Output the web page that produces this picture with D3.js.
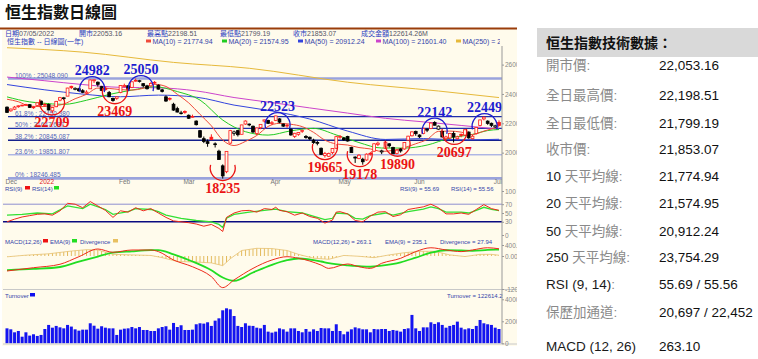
<!DOCTYPE html>
<html>
<head>
<meta charset="utf-8">
<script src="https://cdn.jsdelivr.net/npm/d3@7.9.0/dist/d3.min.js"></script>
<style>
  body { margin: 0; background: #fff; }
  svg text { font-family: "Liberation Sans", "Noto Sans CJK TC", sans-serif; }
</style>
</head>
<body>
<svg id="chart" width="758" height="359"></svg>
<script>
// ---- data (day index 0 = 20 Dec 2021, 130 = 5 Jul 2022) ----
const opens = [
  23100, 22850, 22960, 23130, 23240, 23250, 23270, 23060, 23220,
  23510, 23270, 23280, 22850, 23130, 23580, 23680, 23850, 24520, 24300, 24350, 24220, 24050, 24350, 24900, 24800, 24500, 24400, 24100, 23700, 23700,
  24100, 24500, 24560, 24450, 24900, 24880, 24700, 24550, 24550, 24750, 24600, 24280, 23800, 23700, 23300, 23000, 22700,
  22800, 22550, 22450, 22150, 21500, 20950, 20750, 21050, 20600, 20100, 19100, 18700, 20650, 21300, 21500, 21250, 21950, 21900, 21800, 21300, 21700, 22150, 22200,
  22000, 22200, 22300, 21950, 21850, 21600, 21100, 21250, 21450, 21100, 21050, 20850, 20700, 20300, 19800, 19750, 20000, 20300,
  21050, 21000, 21100, 20350, 19700, 19600, 19550, 19500, 19950, 20100, 20550, 20050, 20300, 20600, 20350, 19950, 20250, 20250, 20850, 21150,
  21450, 21200, 21300, 21600, 21650, 22050, 21600, 21450, 20950, 21000, 21300, 20950, 21250, 21200, 21400, 20950, 21300, 21850, 22300, 22150, 22000,
  21750, 22053.16
];
const highs = [
  23150, 23000, 23180, 23220, 23260, 23330, 23300, 23150, 23400,
  23560, 23390, 23350, 23100, 23530, 23800, 23800, 24420, 24560, 24450, 24420, 24330, 24250, 24982, 24980, 24850, 24550, 24500, 24200, 23750, 23820,
  24600, 24700, 24600, 24850, 25050, 24960, 24740, 24620, 24800, 24880, 24650, 24350, 23900, 23760, 23400, 23130, 22850,
  22880, 22600, 22590, 22200, 21550, 21100, 20900, 21250, 20700, 20200, 19200, 20100, 21550, 21500, 21550, 21900, 22200, 21990, 21850, 21700, 21930, 22250, 22240,
  22150, 22523, 22350, 21980, 21950, 21650, 21350, 21400, 21580, 21200, 21100, 20950, 20800, 20350, 20050, 20000, 20300, 21150,
  21200, 21050, 21150, 20400, 19750, 19900, 19650, 19950, 20050, 20650, 20750, 20200, 20750, 20650, 20400, 20200, 20300, 20700, 21150, 21450,
  21500, 21250, 21700, 21650, 22050, 22142, 21850, 21500, 21150, 21350, 21450, 21150, 21300, 21600, 21450, 21200, 21750, 22250, 22449, 22200, 22050,
  21900, 22198.51
];
const lows = [
  22700, 22790, 22900, 23060, 23160, 23190, 23050, 22990, 23180,
  23180, 23150, 22880, 22709, 23100, 23500, 23580, 23850, 24330, 24250, 24150, 24050, 23990, 24350, 24750, 24500, 24200, 24230, 23780, 23469, 23600,
  24050, 24450, 24250, 24400, 24830, 24780, 24450, 24300, 24500, 24650, 24300, 24100, 23450, 23550, 22850, 22740, 22600,
  22650, 22300, 22380, 21850, 21000, 20650, 20400, 20850, 20350, 19500, 18235, 18600, 20600, 21150, 21100, 21250, 21900, 21800, 21350, 21200, 21600, 22050, 21950,
  21900, 22150, 22000, 21750, 21700, 21150, 21000, 21150, 21350, 20950, 20850, 20600, 20500, 19850, 19665, 19700, 19900, 20250,
  20950, 20800, 20750, 20000, 19300, 19550, 19178, 19450, 19800, 20050, 20450, 19900, 20250, 20350, 19900, 19890, 20000, 20200, 20850, 21100,
  21150, 21000, 21250, 21400, 21600, 21850, 21550, 21050, 20850, 20900, 20697, 20900, 21050, 21150, 20950, 20900, 21250, 21800, 22200, 21900, 21750,
  21700, 21799.19
];
const closes = [
  22744, 22971, 23102, 23193, 23224, 23280, 23086, 23112, 23398,
  23274, 23289, 22907, 23072, 23493, 23746, 23739, 24402, 24429, 24383, 24218, 24112, 24127, 24952, 24965, 24656, 24243, 24289, 23807, 23550, 23802,
  24573, 24579, 24329, 24829, 24924, 24906, 24556, 24355, 24718, 24792, 24327, 24170, 23520, 23660, 22901, 22767, 22713,
  22761, 22343, 22467, 21906, 21057, 20765, 20627, 20890, 20554, 19531, 18415, 20087, 21501, 21412, 21221, 21889, 22154, 21945, 21404, 21684, 21927, 22232, 21996,
  22039, 22502, 22080, 21808, 21872, 21208, 21319, 21374, 21518, 21027, 20944, 20682, 20638, 19869, 19934, 19946, 20276, 21089,
  21101, 20870, 20793, 20001, 19633, 19824, 19380, 19898, 19950, 20602, 20644, 20120, 20717, 20470, 19924, 20171, 20116, 20697, 21123, 21415,
  21294, 21082, 21654, 21531, 22014, 21869, 21806, 21067, 21067, 21308, 21075, 21075, 21163, 21559, 21008, 21120, 21719, 22229, 22419, 21996, 21860,
  21830, 21853.07
];

const monthLabels = ['Dec', '2022', 'Feb', 'Mar', 'Apr', 'May', 'Jun', 'Jul'];
const monthStart = [0, 9, 30, 47, 70, 88, 108, 129];

// moving averages
const ma10Day = [0,3,6,9,12,15,18,21,24,27,30,33,36,39,42,45,48,51,54,57,60,63,66,69,72,75,78,81,84,87,90,93,96,99,102,105,108,111,114,117,120,123,126,129,130];
const ma10 = [23640,23470,23170,23138,23184,23312,23673,23972,24398,24375,24296,24266,24386,24656,24510,23977,23395,22610,21830,20856,20484,20765,21171,21786,21996,21935,21772,21383,20851,20592,20520,20347,20254,20085,20153,20341,20605,20901,21449,21469,21398,21225,21468,21690,21775];
const ma20Day = [0,6,9,15,21,27,33,39,45,51,57,63,69,75,81,87,93,99,105,111,117,123,127,130];
const ma20 = [23800,23460,23380,23290,23570,23964,24261,24489,24162,23585,22222,21428,21197,21486,21655,21209,20688,20315,20313,20516,20993,21246,21505,21575];
const ma50Day = [0,10,20,30,40,50,60,70,80,90,100,110,120,130];
const ma50 = [24640,24280,23990,23810,23920,23780,23240,22840,22290,21470,20900,20960,20870,20912];
const ma100Day = [0,10,20,30,40,50,60,70,80,90,100,110,120,130];
const ma100 = [25150,24900,24640,24450,24420,24208,23757,23412,23048,22695,22339,22099,21854,21601];
const ma250Day = [0,20,44,64,90,114,130];
const ma250 = [27150,26850,26150,25750,24800,24200,23754];

const fibNames = ['100%', '61.8%', '50%', '38.2%', '23.6%', '0%'];
const fibLevels = [25048.090, 22450.380, 21647.687, 20845.087, 19851.807, 18246.485];

// marked highs and lows
const noteDay = [22.5, 35.4, 28.5, 11.9, 57, 71.5, 84, 93.2, 103.2, 113, 118.2, 126.2];
const notePrice = [24982, 25050, 23469, 22709, 18235, 22523, 19665, 19178, 19890, 22142, 20697, 22449];
const noteKind = ['h', 'h', 'l', 'l', 'l', 'h', 'l', 'l', 'l', 'h', 'l', 'h'];

// RSI
const rsi9Day = [0,2,4,6,8,10,12,14,16,18,20,22,24,26,28,30,32,34,36,38,40,42,44,46,48,50,52,54,56,57,58,60,62,64,66,68,70,71,72,74,76,78,80,82,84,86,87,88,90,92,94,96,98,100,102,104,106,108,110,112,114,116,118,120,122,124,126,128,130];
const rsi9 = [30,36,41,44,47,48,45,55,72,70,62,76,66,56,40,55,52,62,55,60,50,40,32,30,28,25,20,24,15,8,40,50,55,56,52,60,58,63,56,53,45,50,42,38,27,34,52,53,48,33,30,43,52,53,42,46,58,61,64,70,62,48,48,50,47,58,69,60,56];
const rsi14Day = [0,4,8,12,16,20,22,26,28,32,34,38,40,42,46,50,54,56,57,58,60,64,68,71,74,78,80,84,86,87,90,92,94,96,100,102,106,110,112,114,116,120,122,124,126,128,130];
const rsi14 = [45,47,50,48,66,60,70,58,47,53,60,58,53,45,38,33,30,24,17,38,47,52,56,59,53,50,45,35,38,50,48,38,36,44,50,45,53,59,64,60,52,52,50,56,63,58,55.56];

// MACD
const macdDay = [0,7,14,19,24,28,33,38,40,44,49,54,57,60,65,70,74,77,83,85,90,93,96,99,104,108,112,116,120,123,127,130];
const macd = [-545,-425,-300,-25,255,135,218,218,160,-145,-390,-750,-1150,-870,-450,-145,-25,-80,-330,-450,-290,-390,-450,-265,-85,160,300,220,160,220,300,263.1];
const ema9 = [-510,-470,-400,-206,-20,120,170,210,215,60,-200,-520,-780,-900,-600,-320,-150,-90,-200,-260,-340,-370,-390,-350,-230,-60,120,210,200,190,220,235.1];
const divDay = [0,5,11,17,21,24,28,33,38,41,45,50,54,57,59,62,66,70,74,77,81,85,89,93,97,101,105,109,113,117,121,125,128,130];
const divergence = [-30,30,80,180,230,220,60,40,20,-60,-200,-220,-250,-350,-100,200,280,270,200,60,-80,-120,20,-10,-60,40,120,170,170,40,-20,60,60,27.94];

// turnover
const turnover = [
  13600,12700,10000,11200,6000,10000,7000,8200,6700,7600,
  13000,16700,14200,15800,14500,13600,16700,15200,12700,11500,
  12400,12400,18200,16000,13300,15500,14200,13600,13600,7600,
  12400,13300,13600,14800,13600,14800,12100,12100,11200,11200,
  13600,14800,15500,12400,18500,14800,16400,12100,12100,12400,
  17300,18200,17900,19100,15800,20600,22700,30000,31800,30900,
  24800,15800,14800,18200,16000,15800,14200,13600,16700,10600,
  9700,10600,13600,12700,10600,13600,13600,11200,10000,13000,
  10600,12700,11200,13900,13600,13600,11200,17300,11200,8200,
  10600,12700,14500,13600,12700,12700,10000,13000,12700,13000,
  13000,11200,12100,11500,10600,13000,13600,25800,13600,11200,
  14500,14500,19100,17600,19100,16700,14200,15800,16700,19700,
  14200,12700,13600,13000,15800,21200,18200,17300,16700,14200,
  13000
];

const headerInfo = ['日期07/05/2022', '開市22053.16', '最高點22198.51', '最低點21799.19', '收市21853.07', '成交金額122614.26M'];
const maNames = ['MA(10) = 21774.94', 'MA(20) = 21574.95', 'MA(50) = 20912.24', 'MA(100) = 21601.40', 'MA(250) = 23754.29'];

const tableLabels = ['開市價:', '全日最高價:', '全日最低價:', '收市價:', '10 天平均線:', '20 天平均線:', '50 天平均線:', '250 天平均線:', 'RSI (9, 14):', '保歷加通道:', 'MACD (12, 26)'];
const tableValues = ['22,053.16', '22,198.51', '21,799.19', '21,853.07', '21,774.94', '21,574.95', '20,912.24', '23,754.29', '55.69 / 55.56', '20,697 / 22,452', '263.10'];

// ---- layout ----
const cream = '#fffbec';
const blueText = '#3344aa';
const svg = d3.select('#chart');

const xs = d3.scaleLinear().domain([0, 130]).range([7, 499]);
const yP = d3.scaleLinear().domain([18000, 26000]).range([182, 64.6]);
const yR = d3.scaleLinear().domain([0, 100]).range([235, 191]);
const yM = d3.scaleLinear().domain([-1200, 400]).range([289, 245]);
const yT = d3.scaleLinear().domain([0, 40000]).range([343.3, 299.3]);

const defs = svg.append('defs');
defs.append('clipPath').attr('id', 'panelClip')
  .append('rect').attr('x', 2).attr('y', 28).attr('width', 515).attr('height', 318);
defs.append('clipPath').attr('id', 'plotClip')
  .append('rect').attr('x', 3).attr('y', 46).attr('width', 499).attr('height', 134);
defs.append('clipPath').attr('id', 'headClip')
  .append('rect').attr('x', 2).attr('y', 28).attr('width', 498).attr('height', 20);
const step = xs(1) - xs(0);
defs.append('pattern').attr('id', 'hatch').attr('patternUnits', 'userSpaceOnUse')
  .attr('x', xs(0) - 0.5).attr('y', 0).attr('width', step).attr('height', 10)
  .append('rect').attr('width', 1).attr('height', 10).attr('fill', '#e2b95a');

// title
svg.append('text').attr('x', 5).attr('y', 18)
  .attr('font-size', 16).attr('font-weight', 'bold').attr('fill', '#111')
  .style('font-family', '"Noto Sans CJK TC", sans-serif')
  .text('恒生指數日線圖');

// chart panel
const panel = svg.append('g').attr('clip-path', 'url(#panelClip)');
panel.append('rect').attr('x', 2).attr('y', 28).attr('width', 515).attr('height', 318).attr('fill', cream);
svg.append('rect').attr('x', 0).attr('y', 27.5).attr('width', 517).attr('height', 2).attr('fill', '#9a3d0a');

// header lines
const head = panel.append('g').attr('clip-path', 'url(#headClip)').attr('font-size', 7);
const headX = [5, 79, 147, 220, 293, 361];
headerInfo.forEach((s, i) => {
  const t = head.append('text').attr('x', headX[i]).attr('y', 36);
  s.match(/[\u4e00-\u9fff]+|[^\u4e00-\u9fff]+/g).forEach(run => {
    t.append('tspan').attr('fill', /[\u4e00-\u9fff]/.test(run) ? '#2a3cc0' : '#556').text(run);
  });
});
head.append('text').attr('x', 7).attr('y', 44).attr('fill', '#2a3cc0').text('恒生指數 -- 日線圖(一年)');
const maColors = ['#f04a3a', '#22cc22', '#3344dd', '#cc44cc', '#e6b93a'];
const maX = [146, 222, 298, 376, 456];
maNames.forEach((s, i) => {
  head.append('rect').attr('x', maX[i]).attr('y', 39.5).attr('width', 5).attr('height', 3).attr('fill', maColors[i]);
  head.append('text').attr('x', maX[i] + 6.5).attr('y', 44).attr('fill', blueText).text(s);
});

// main price plot
const plot = panel.append('g').attr('clip-path', 'url(#plotClip)');
const fibStyle = [
  { c: '#9aa3dc', w: 2.6 }, { c: '#1f2fa8', w: 1.3 }, { c: '#1f2fa8', w: 1.3 },
  { c: '#14208c', w: 1.3 }, { c: '#8a96e0', w: 1 }, { c: '#9aa3dc', w: 2.6 }
];
fibLevels.forEach((v, i) => {
  plot.append('line').attr('x1', 8).attr('x2', 502)
    .attr('y1', yP(v)).attr('y2', yP(v))
    .attr('stroke', fibStyle[i].c).attr('stroke-width', fibStyle[i].w);
  plot.append('text').attr('x', 15).attr('y', yP(v) - 1)
    .attr('font-size', 6.5).attr('fill', '#5566bb')
    .text(`${fibNames[i]} : ${v.toFixed(3)}`);
});

const maLine = d3.line().curve(d3.curveMonotoneX);
[[ma250Day, ma250, 4], [ma100Day, ma100, 3], [ma50Day, ma50, 2], [ma20Day, ma20, 1], [ma10Day, ma10, 0]]
  .forEach(([days, vals, c]) => {
    plot.append('path')
      .attr('d', maLine(days.map((d, i) => [xs(d), yP(vals[i])])))
      .attr('fill', 'none').attr('stroke', maColors[c]).attr('stroke-width', 1);
  });

// candles: red = up on previous close, hollow when close above open
const candles = plot.append('g').selectAll('g').data(d3.range(closes.length)).join('g');
const candleColor = k => (closes[k] >= (k > 0 ? closes[k - 1] : opens[k]) ? '#ff1a1a' : '#000');
candles.append('line')
  .attr('x1', k => xs(k)).attr('x2', k => xs(k))
  .attr('y1', k => yP(highs[k])).attr('y2', k => yP(lows[k]))
  .attr('stroke', candleColor).attr('stroke-width', 1);
candles.append('rect')
  .attr('x', k => xs(k) - 1.4).attr('width', 2.8)
  .attr('y', k => yP(Math.max(opens[k], closes[k])))
  .attr('height', k => Math.max(0.8, Math.abs(yP(opens[k]) - yP(closes[k]))))
  .attr('fill', k => (closes[k] > opens[k] ? cream : candleColor(k)))
  .attr('stroke', candleColor).attr('stroke-width', 0.8);

// circled highs / lows
const notes = panel.append('g');
const r = 12.5;
noteDay.forEach((d, i) => {
  const cx = xs(d);
  const py = yP(notePrice[i]);
  const p = d3.path();
  let ty;
  if (noteKind[i] === 'h') {
    const top = py - 3;
    p.arc(cx, top + r, r, Math.PI - 0.25, 2 * Math.PI + 0.25);
    ty = top - 1.5;
  } else {
    const bottom = py + 2;
    p.arc(cx, bottom - r, r, -0.25, Math.PI + 0.25);
    ty = bottom + 12.5;
  }
  const col = noteKind[i] === 'h' ? '#1c1cd0' : '#ea1414';
  notes.append('path').attr('d', p.toString()).attr('fill', 'none').attr('stroke', col).attr('stroke-width', 1.3);
  notes.append('text').attr('x', cx).attr('y', ty).attr('text-anchor', 'middle')
    .attr('font-size', 14).attr('font-weight', 'bold').attr('fill', col)
    .style('font-family', '"Liberation Serif", serif')
    .text(notePrice[i]);
});

// month labels
monthLabels.forEach((m, i) => {
  panel.append('text').attr('x', xs(monthStart[i]) - 1.5).attr('y', 183.5)
    .attr('font-size', 6.5).attr('fill', m === '2022' ? '#e02020' : '#777').text(m);
});

// panel labels
const lab = panel.append('g').attr('font-size', 6).attr('fill', blueText);
function legend(g, y, items) {
  items.forEach(([s, x, sx, col]) => {
    g.append('text').attr('x', x).attr('y', y).text(s);
    g.append('rect').attr('x', sx).attr('y', y - 4.5).attr('width', 5).attr('height', 3.5).attr('fill', col);
  });
}

// RSI panel
legend(lab, 190.5, [['RSI(9)', 5, 25, '#ee1111'], ['RSI(14)', 32, 54, '#22dd22']]);
lab.append('text').attr('x', 400).attr('y', 190.5).text('RSI(9) = 55.69');
lab.append('text').attr('x', 451).attr('y', 190.5).text('RSI(14) = 55.56');
panel.append('line').attr('x1', 3).attr('x2', 502).attr('y1', yR(70)).attr('y2', yR(70)).attr('stroke', '#8f8fd0').attr('stroke-width', 1);
panel.append('line').attr('x1', 3).attr('x2', 502).attr('y1', yR(30)).attr('y2', yR(30)).attr('stroke', '#0a0a80').attr('stroke-width', 1.4);
const rLine = d3.line();
panel.append('path').attr('d', rLine(rsi14Day.map((d, i) => [xs(d), yR(rsi14[i])])))
  .attr('fill', 'none').attr('stroke', '#33e033').attr('stroke-width', 1.3);
panel.append('path').attr('d', rLine(rsi9Day.map((d, i) => [xs(d), yR(rsi9[i])])))
  .attr('fill', 'none').attr('stroke', '#ee2a1a').attr('stroke-width', 1);

// MACD panel
legend(lab, 243.5, [['MACD(12,26)', 5, 43, '#ee1111'], ['EMA(9)', 50, 72, '#22dd22'], ['Divergence', 80, 113, '#e8c060']]);
lab.append('text').attr('x', 313).attr('y', 243.5).text('MACD(12,26) = 263.1');
lab.append('text').attr('x', 385).attr('y', 243.5).text('EMA(9) = 235.1');
lab.append('text').attr('x', 440).attr('y', 243.5).text('Divergence = 27.94');
const divPts = divDay.map((d, i) => [xs(d), yM(divergence[i])]);
panel.append('path')
  .attr('d', d3.area().x(p => p[0]).y0(yM(0)).y1(p => p[1])(divPts))
  .attr('fill', 'url(#hatch)');
panel.append('path').attr('d', d3.line()(divPts)).attr('fill', 'none').attr('stroke', '#e6c070').attr('stroke-width', 0.8);
panel.append('path').attr('d', maLine(macdDay.map((d, i) => [xs(d), yM(ema9[i])])))
  .attr('fill', 'none').attr('stroke', '#22dd22').attr('stroke-width', 1.8);
panel.append('path').attr('d', maLine(macdDay.map((d, i) => [xs(d), yM(macd[i])])))
  .attr('fill', 'none').attr('stroke', '#ee2a1a').attr('stroke-width', 1);
panel.append('line').attr('x1', 3).attr('x2', 517).attr('y1', 289.5).attr('y2', 289.5).attr('stroke', '#c8c8c8');

// turnover panel
legend(lab, 297.5, [['Turnover', 5, 30, '#1010ee']]);
lab.append('text').attr('x', 447).attr('y', 297.5).text('Turnover = 122614.2');
panel.append('g').selectAll('rect').data(turnover).join('rect')
  .attr('x', (v, k) => xs(k) - 1.5).attr('width', 3)
  .attr('y', v => yT(v)).attr('height', v => yT(0) - yT(v))
  .attr('fill', '#1414f0');
panel.append('line').attr('x1', 3).attr('x2', 517).attr('y1', 344).attr('y2', 344).attr('stroke', '#c8c8c8');

// right axes
panel.append('line').attr('x1', 502).attr('x2', 502).attr('y1', 46).attr('y2', 344).attr('stroke', '#999');
function rightAxis(scale, ticks, fmt) {
  const g = panel.append('g').attr('transform', 'translate(502,0)')
    .call(d3.axisRight(scale).tickValues(ticks).tickSize(2).tickPadding(1).tickFormat(fmt));
  g.select('.domain').remove();
  g.selectAll('line').attr('stroke', '#999');
  g.selectAll('text').attr('fill', '#888').attr('font-size', 6.5)
    .style('font-family', '"Liberation Sans", sans-serif');
}
rightAxis(yP, [26000, 24000, 22000, 20000], d3.format('d'));
rightAxis(yR, [100, 70, 50, 30, 0], d3.format('d'));
rightAxis(yM, [400, 0, -1200], v => (v === 0 ? '0.00' : v.toFixed(1)));
rightAxis(yT, [40000, 20000, 0], d3.format('d'));

// technical data table
svg.append('rect').attr('x', 537).attr('y', 28).attr('width', 221).attr('height', 29).attr('fill', '#d9d9d9');
svg.append('text').attr('x', 546).attr('y', 47.5).attr('font-size', 14).attr('font-weight', 'bold').attr('fill', '#111')
  .text('恒生指數技術數據：');
const rowY = [70, 100, 128, 154, 181, 208, 236, 262, 289, 317, 351];
tableLabels.forEach((s, i) => {
  const t = svg.append('text').attr('x', 546).attr('y', rowY[i]).attr('font-size', 13.5);
  s.match(/[\u4e00-\u9fff:]+|[^\u4e00-\u9fff:]+/g).forEach(run => {
    t.append('tspan').attr('fill', /[\u4e00-\u9fff:]/.test(run[0]) ? '#8a8a8a' : '#1a1a1a').text(run);
  });
  svg.append('text').attr('x', 659).attr('y', rowY[i]).attr('font-size', 13.5).attr('fill', '#111').text(tableValues[i]);
});
</script>
</body>
</html>
